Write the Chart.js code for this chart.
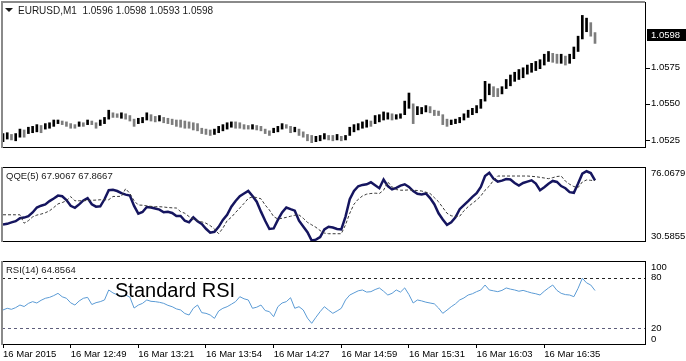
<!DOCTYPE html>
<html>
<head>
<meta charset="utf-8">
<script src="https://cdn.jsdelivr.net/npm/chart.js@4/dist/chart.umd.min.js"></script>
<style>
    html, body { margin: 0; padding: 0; background: #fff; }
    #wrap { position: relative; width: 686px; height: 361px; overflow: hidden; }
    #wrap canvas { position: absolute; left: 0; }
</style>
</head>
<body>
<div id="wrap">
    <canvas id="priceChart" width="686" height="166" style="top:0"></canvas>
    <canvas id="qqeChart" width="686" height="94" style="top:165px"></canvas>
    <canvas id="rsiChart" width="686" height="102" style="top:259px"></canvas>
</div>
<script>
// EURUSD M1, one entry every two minutes
const barHigh = [
    1.05294, 1.05300, 1.05288, 1.05294, 1.05325, 1.05319, 1.05338, 1.05344, 1.05356, 1.05350,
    1.05363, 1.05369, 1.05388, 1.05388, 1.05381, 1.05375, 1.05363, 1.05356, 1.05375, 1.05369,
    1.05388, 1.05381, 1.05369, 1.05388, 1.05406, 1.05456, 1.05438, 1.05431, 1.05438, 1.05431,
    1.05419, 1.05394, 1.05400, 1.05406, 1.05438, 1.05425, 1.05413, 1.05419, 1.05406, 1.05400,
    1.05394, 1.05388, 1.05388, 1.05381, 1.05375, 1.05369, 1.05363, 1.05331, 1.05325, 1.05319,
    1.05325, 1.05344, 1.05356, 1.05369, 1.05375, 1.05375, 1.05369, 1.05356, 1.05350, 1.05356,
    1.05350, 1.05344, 1.05325, 1.05313, 1.05331, 1.05344, 1.05363, 1.05356, 1.05344, 1.05338,
    1.05325, 1.05306, 1.05288, 1.05281, 1.05275, 1.05281, 1.05294, 1.05281, 1.05281, 1.05288,
    1.05275, 1.05281, 1.05338, 1.05356, 1.05363, 1.05375, 1.05388, 1.05381, 1.05419, 1.05425,
    1.05444, 1.05438, 1.05431, 1.05425, 1.05431, 1.05519, 1.05575, 1.05500, 1.05481, 1.05475,
    1.05488, 1.05481, 1.05456, 1.05450, 1.05425, 1.05394, 1.05388, 1.05394, 1.05406, 1.05431,
    1.05456, 1.05469, 1.05488, 1.05531, 1.05656, 1.05638, 1.05619, 1.05606, 1.05619, 1.05669,
    1.05700, 1.05719, 1.05738, 1.05750, 1.05769, 1.05781, 1.05794, 1.05806, 1.05844, 1.05863,
    1.05850, 1.05844, 1.05844, 1.05831, 1.05844, 1.05894, 1.05969, 1.06113, 1.06094, 1.06063,
    1.05994
];
const barLow = [
    1.05238, 1.05256, 1.05250, 1.05244, 1.05269, 1.05269, 1.05294, 1.05300, 1.05306, 1.05300,
    1.05325, 1.05331, 1.05344, 1.05363, 1.05356, 1.05344, 1.05331, 1.05331, 1.05344, 1.05344,
    1.05356, 1.05356, 1.05331, 1.05350, 1.05363, 1.05394, 1.05406, 1.05406, 1.05400, 1.05394,
    1.05381, 1.05344, 1.05363, 1.05369, 1.05388, 1.05381, 1.05375, 1.05381, 1.05369, 1.05363,
    1.05356, 1.05344, 1.05338, 1.05331, 1.05331, 1.05319, 1.05313, 1.05294, 1.05288, 1.05281,
    1.05288, 1.05300, 1.05313, 1.05325, 1.05338, 1.05331, 1.05331, 1.05325, 1.05325, 1.05325,
    1.05319, 1.05313, 1.05294, 1.05281, 1.05300, 1.05306, 1.05325, 1.05331, 1.05300, 1.05306,
    1.05281, 1.05269, 1.05244, 1.05231, 1.05238, 1.05244, 1.05256, 1.05250, 1.05244, 1.05250,
    1.05244, 1.05250, 1.05281, 1.05306, 1.05319, 1.05331, 1.05338, 1.05344, 1.05363, 1.05375,
    1.05388, 1.05394, 1.05388, 1.05394, 1.05400, 1.05425, 1.05469, 1.05363, 1.05425, 1.05431,
    1.05444, 1.05438, 1.05419, 1.05419, 1.05356, 1.05344, 1.05356, 1.05363, 1.05369, 1.05388,
    1.05406, 1.05425, 1.05438, 1.05469, 1.05519, 1.05563, 1.05550, 1.05550, 1.05569, 1.05606,
    1.05625, 1.05656, 1.05669, 1.05681, 1.05706, 1.05719, 1.05731, 1.05744, 1.05769, 1.05794,
    1.05788, 1.05781, 1.05781, 1.05769, 1.05781, 1.05813, 1.05863, 1.05950, 1.06000, 1.05969,
    1.05919
];
const qqeFast = [
    41.2, 41.6, 42.5, 43.2, 45.0, 45.4, 46.2, 48.5, 51.5, 52.6,
    53.4, 55.4, 57.0, 58.7, 58.3, 56.0, 52.5, 51.3, 53.4, 55.8,
    57.2, 53.5, 52.0, 52.2, 56.5, 62.0, 62.2, 61.5, 60.2, 59.3,
    58.7, 52.5, 47.8, 48.8, 51.8, 51.5, 50.9, 50.2, 48.6, 48.9,
    48.2, 46.3, 46.4, 43.5, 42.5, 45.5, 43.2, 41.5, 38.6, 36.2,
    36.8, 39.8, 44.0, 47.1, 52.0, 55.5, 58.4, 60.0, 61.6, 58.5,
    55.0, 49.0, 43.5, 38.5, 38.8, 44.0, 48.5, 51.5, 50.5, 49.6,
    43.5, 40.0, 36.5, 31.5, 32.0, 33.6, 38.2, 39.8, 39.4, 38.5,
    38.2, 46.0, 56.5, 61.5, 64.4, 65.2, 65.6, 66.8, 65.0, 63.2,
    68.5, 64.5, 62.5, 63.4, 64.8, 65.6, 64.0, 61.5, 59.8, 59.4,
    60.0, 57.2, 53.5, 48.0, 44.2, 41.0, 42.5, 45.5, 50.5, 53.0,
    55.4, 58.0, 60.2, 64.0, 70.6, 72.6, 69.0, 67.2, 67.8, 68.8,
    68.5, 66.4, 64.8, 66.4, 67.2, 68.0, 66.0, 62.0, 63.8, 65.9,
    67.6, 67.0, 64.5, 63.2, 60.8, 60.4, 66.0, 72.0, 73.5, 72.4,
    67.9067
];
const qqeSlow = [
    47.1, 47.1, 47.1, 47.1, 47.1, 42.0, 43.5, 45.8, 46.9, 47.5,
    48.3, 49.5, 51.5, 53.7, 54.5, 55.6, 58.1, 55.6, 55.6, 55.6,
    55.8, 55.9, 56.0, 56.2, 56.2, 56.2, 58.2, 58.2, 58.3, 62.9,
    60.0, 55.6, 53.0, 52.9, 52.5, 52.2, 52.0, 52.0, 51.8, 51.5,
    51.3, 51.2, 49.0, 48.0, 46.0, 44.6, 43.5, 42.8, 42.0, 40.5,
    38.5, 35.6, 39.0, 43.5, 45.6, 48.5, 51.2, 54.0, 57.0, 58.0,
    57.5, 56.8, 53.0, 50.0, 46.0, 44.5, 45.0, 45.5, 46.2, 46.8,
    47.0, 45.0, 42.5, 41.0, 39.5, 37.5, 36.0, 35.6, 35.6, 35.6,
    35.6, 41.0, 48.0, 53.5, 56.5, 58.5, 59.6, 60.0, 60.2, 60.0,
    62.0, 67.0, 64.0, 62.4, 62.0, 62.0, 62.2, 62.0, 61.8, 61.5,
    60.8, 60.0, 57.5, 55.0, 51.5, 48.0, 46.5, 46.0, 46.2, 49.5,
    52.0, 54.0, 56.0, 58.5, 62.0, 64.5, 68.0, 70.6, 70.6, 70.6,
    70.6, 70.6, 70.6, 70.6, 70.6, 70.4, 70.2, 69.8, 69.4, 69.0,
    69.6, 70.3, 70.6, 67.5, 65.6, 64.2, 63.6, 67.0, 68.2, 68.0,
    67.8667
];
const rsiValues = [
    41.7, 43.7, 42.5, 44.5, 47.6, 45.8, 49.5, 51.6, 50.0, 53.2,
    55.6, 56.7, 58.8, 61.5, 57.4, 55.6, 50.2, 47.6, 52.4, 55.6,
    56.7, 48.2, 50.4, 51.6, 53.6, 65.5, 62.0, 59.8, 57.5, 59.5,
    57.0, 44.0, 47.5, 49.6, 53.6, 52.0, 51.6, 50.8, 49.6, 47.2,
    45.6, 43.0, 41.7, 37.5, 35.7, 43.7, 47.6, 38.5, 37.7, 35.7,
    31.7, 40.5, 43.7, 45.6, 48.5, 51.6, 57.5, 55.0, 53.6, 43.7,
    45.0, 47.6, 41.0, 39.7, 33.7, 45.6, 50.0, 51.6, 56.3, 43.7,
    45.6, 41.7, 32.0, 25.8, 33.0, 39.7, 45.6, 41.5, 37.7, 40.5,
    43.7, 53.6, 59.5, 62.0, 64.5, 65.5, 63.0, 63.5, 66.0, 67.9,
    64.0, 59.5, 61.5, 65.5, 63.0, 68.0, 60.0, 50.0, 53.6, 52.5,
    51.0, 50.0, 49.0, 44.0, 37.7, 41.5, 45.6, 49.0, 53.6, 56.0,
    59.5, 61.0, 63.5, 65.5, 71.4, 65.5, 64.5, 63.5, 65.0, 67.9,
    66.5, 65.5, 64.0, 65.0, 63.5, 62.0, 61.0, 59.5, 64.0, 67.9,
    71.4, 65.0, 61.5, 60.0, 59.5, 57.5, 67.5, 79.4, 74.0, 71.4,
    64.8564
];
const timeLabels = ['16 Mar 2015', '16 Mar 12:49', '16 Mar 13:21', '16 Mar 13:54', '16 Mar 14:27',
                    '16 Mar 14:59', '16 Mar 15:31', '16 Mar 16:03', '16 Mar 16:35'];
const labelStep = 16;
const priceTicks = [1.0575, 1.0550, 1.0525];
const priceRange = [1.05194, 1.06206];
const lastPrice = 1.0598;
const qqeRange = [30.5855, 76.0679];
const rsiTicks = [100, 80, 20, 0];
const rsiLevels = [80, 20];

const FAMILY = '"Liberation Sans", Arial, sans-serif';
const FONT = '9.5px ' + FAMILY;
const xMin = -0.24, xMax = 152.06;

// panel frame, right-hand labels, title and extra bits
const decor = {
    id: 'decor',
    beforeDatasetsDraw(chart, args, o) {
        const { ctx, chartArea: a } = chart;
        const ys = chart.scales.y;
        ctx.save();
        ctx.lineWidth = 1;
        ctx.setLineDash([3, 3]);
        (o.levels || []).forEach(l => {
            const y = Math.round(ys.getPixelForValue(l.value)) + 0.5;
            ctx.strokeStyle = l.color;
            ctx.beginPath();
            ctx.moveTo(a.left, y);
            ctx.lineTo(a.right, y);
            ctx.stroke();
        });
        ctx.restore();
    },
    afterDraw(chart, args, o) {
        const { ctx, chartArea: a } = chart;
        const ys = chart.scales.y;
        ctx.save();
        ctx.strokeStyle = '#000';
        ctx.lineWidth = 1;
        ctx.strokeRect(a.left + 0.5, a.top + 0.5, a.width - 1, a.height - 1);
        ctx.fillStyle = '#8a8a8a';
        ctx.fillRect(a.left - 1, a.top, 2, a.height);
        if (o.grayTop) ctx.fillRect(a.left - 1, a.top - 1, a.width, 2);

        ctx.font = FONT;
        ctx.textBaseline = 'middle';
        ctx.textAlign = 'left';
        (o.labels || []).forEach(l => {
            let y = ys.getPixelForValue(l.value);
            y = Math.min(Math.max(y, a.top + 6), a.bottom - 6);
            if (o.tickMarks) {
                ctx.fillStyle = '#000';
                ctx.fillRect(a.right, Math.round(y), 4, 1);
            }
            ctx.fillStyle = '#000';
            ctx.fillText(l.text, a.right + 5, y);
        });

        if (o.tag) {
            const y = Math.round(ys.getPixelForValue(o.tag.value));
            ctx.fillStyle = '#000';
            ctx.fillRect(a.right + 1, y - 6, chart.width - a.right - 1, 12);
            ctx.fillStyle = '#fff';
            ctx.fillText(o.tag.text, a.right + 5, y);
        }

        if (o.title) {
            ctx.fillStyle = '#1a1a1a';
            let x = a.left + 4;
            if (o.marker) {
                ctx.beginPath();
                ctx.moveTo(a.left + 3, a.top + 6);
                ctx.lineTo(a.left + 11, a.top + 6);
                ctx.lineTo(a.left + 7, a.top + 10);
                ctx.closePath();
                ctx.fill();
                x = a.left + 16;
                ctx.font = '10px ' + FAMILY;
            }
            ctx.fillText(o.title, x, a.top + 9);
        }

        if (o.note) {
            ctx.font = '20px ' + FAMILY;
            ctx.fillStyle = '#000';
            ctx.textBaseline = 'alphabetic';
            ctx.fillText(o.note, 115, a.top + 36);
        }
        ctx.restore();
    }
};

function xScale(show) {
    return {
        type: 'linear',
        min: xMin,
        max: xMax,
        offset: false,
        display: show,
        afterBuildTicks: s => { s.ticks = timeLabels.map((t, k) => ({ value: k * labelStep })); },
        afterFit: s => { s.height = 16; },
        ticks: {
            callback: v => timeLabels[Math.round(v / labelStep)],
            align: 'start',
            autoSkip: false,
            maxRotation: 0,
            padding: 1,
            color: '#000',
            font: { family: FAMILY, size: 9.5 }
        },
        grid: { drawOnChartArea: false, tickLength: 3, color: '#000' },
        border: { display: false }
    };
}

function yScale(min, max) {
    return {
        position: 'right',
        min: min,
        max: max,
        afterFit: s => { s.width = 40; },
        ticks: { display: false },
        grid: { display: false },
        border: { display: false }
    };
}

function baseOptions(show, ymin, ymax, decorOpts, pad) {
    return {
        responsive: false,
        animation: false,
        events: [],
        layout: { padding: pad },
        scales: { x: xScale(show), y: yScale(ymin, ymax) },
        plugins: { legend: { display: false }, tooltip: { enabled: false }, decor: decorOpts }
    };
}

Chart.register(decor);

// price bars: black when the bar moved up, grey when it moved down
const barColors = barHigh.map((h, i) => {
    if (i === 0) return '#000';
    return (h + barLow[i]) >= (barHigh[i - 1] + barLow[i - 1]) ? '#000' : '#7d7d7d';
});

new Chart(document.getElementById('priceChart'), {
    type: 'bar',
    data: {
        datasets: [{
            data: barHigh.map((h, i) => ({ x: i, y: [barLow[i], h] })),
            backgroundColor: barColors,
            barThickness: 2,
            borderWidth: 0
        }]
    },
    options: baseOptions(false, priceRange[0], priceRange[1], {
        labels: priceTicks.map(v => ({ value: v, text: v.toFixed(4) })),
        tickMarks: true,
        tag: { value: lastPrice, text: lastPrice.toFixed(4) },
        title: 'EURUSD,M1  1.0596 1.0598 1.0593 1.0598',
        marker: true,
        grayTop: true
    }, { left: 2, top: 2, bottom: 2, right: 0 })
});

new Chart(document.getElementById('qqeChart'), {
    type: 'line',
    data: {
        datasets: [{
            data: qqeSlow.map((v, i) => ({ x: i, y: v })),
            borderColor: '#3a3a3a',
            borderWidth: 1,
            borderDash: [3, 2],
            pointRadius: 0,
            tension: 0
        }, {
            data: qqeFast.map((v, i) => ({ x: i, y: v })),
            borderColor: '#15155f',
            borderWidth: 2.5,
            pointRadius: 0,
            tension: 0
        }]
    },
    options: baseOptions(false, qqeRange[0], qqeRange[1], {
        labels: [{ value: qqeRange[1], text: qqeRange[1].toFixed(4) },
                 { value: qqeRange[0], text: qqeRange[0].toFixed(4) }],
        title: 'QQE(5) 67.9067 67.8667'
    }, { left: 2, top: 2, bottom: 1, right: 0 })
});

new Chart(document.getElementById('rsiChart'), {
    type: 'line',
    data: {
        datasets: [{
            data: rsiValues.map((v, i) => ({ x: i, y: v })),
            borderColor: '#5b9bd5',
            borderWidth: 1,
            pointRadius: 0,
            tension: 0
        }]
    },
    options: baseOptions(true, 0, 100, {
        labels: rsiTicks.map(v => ({ value: v, text: String(v) })),
        levels: [{ value: rsiLevels[0], color: '#222' }, { value: rsiLevels[1], color: '#5d5d7a' }],
        title: 'RSI(14) 64.8564',
        note: 'Standard RSI'
    }, { left: 2, top: 2, bottom: 0, right: 0 })
});
</script>
</body>
</html>
